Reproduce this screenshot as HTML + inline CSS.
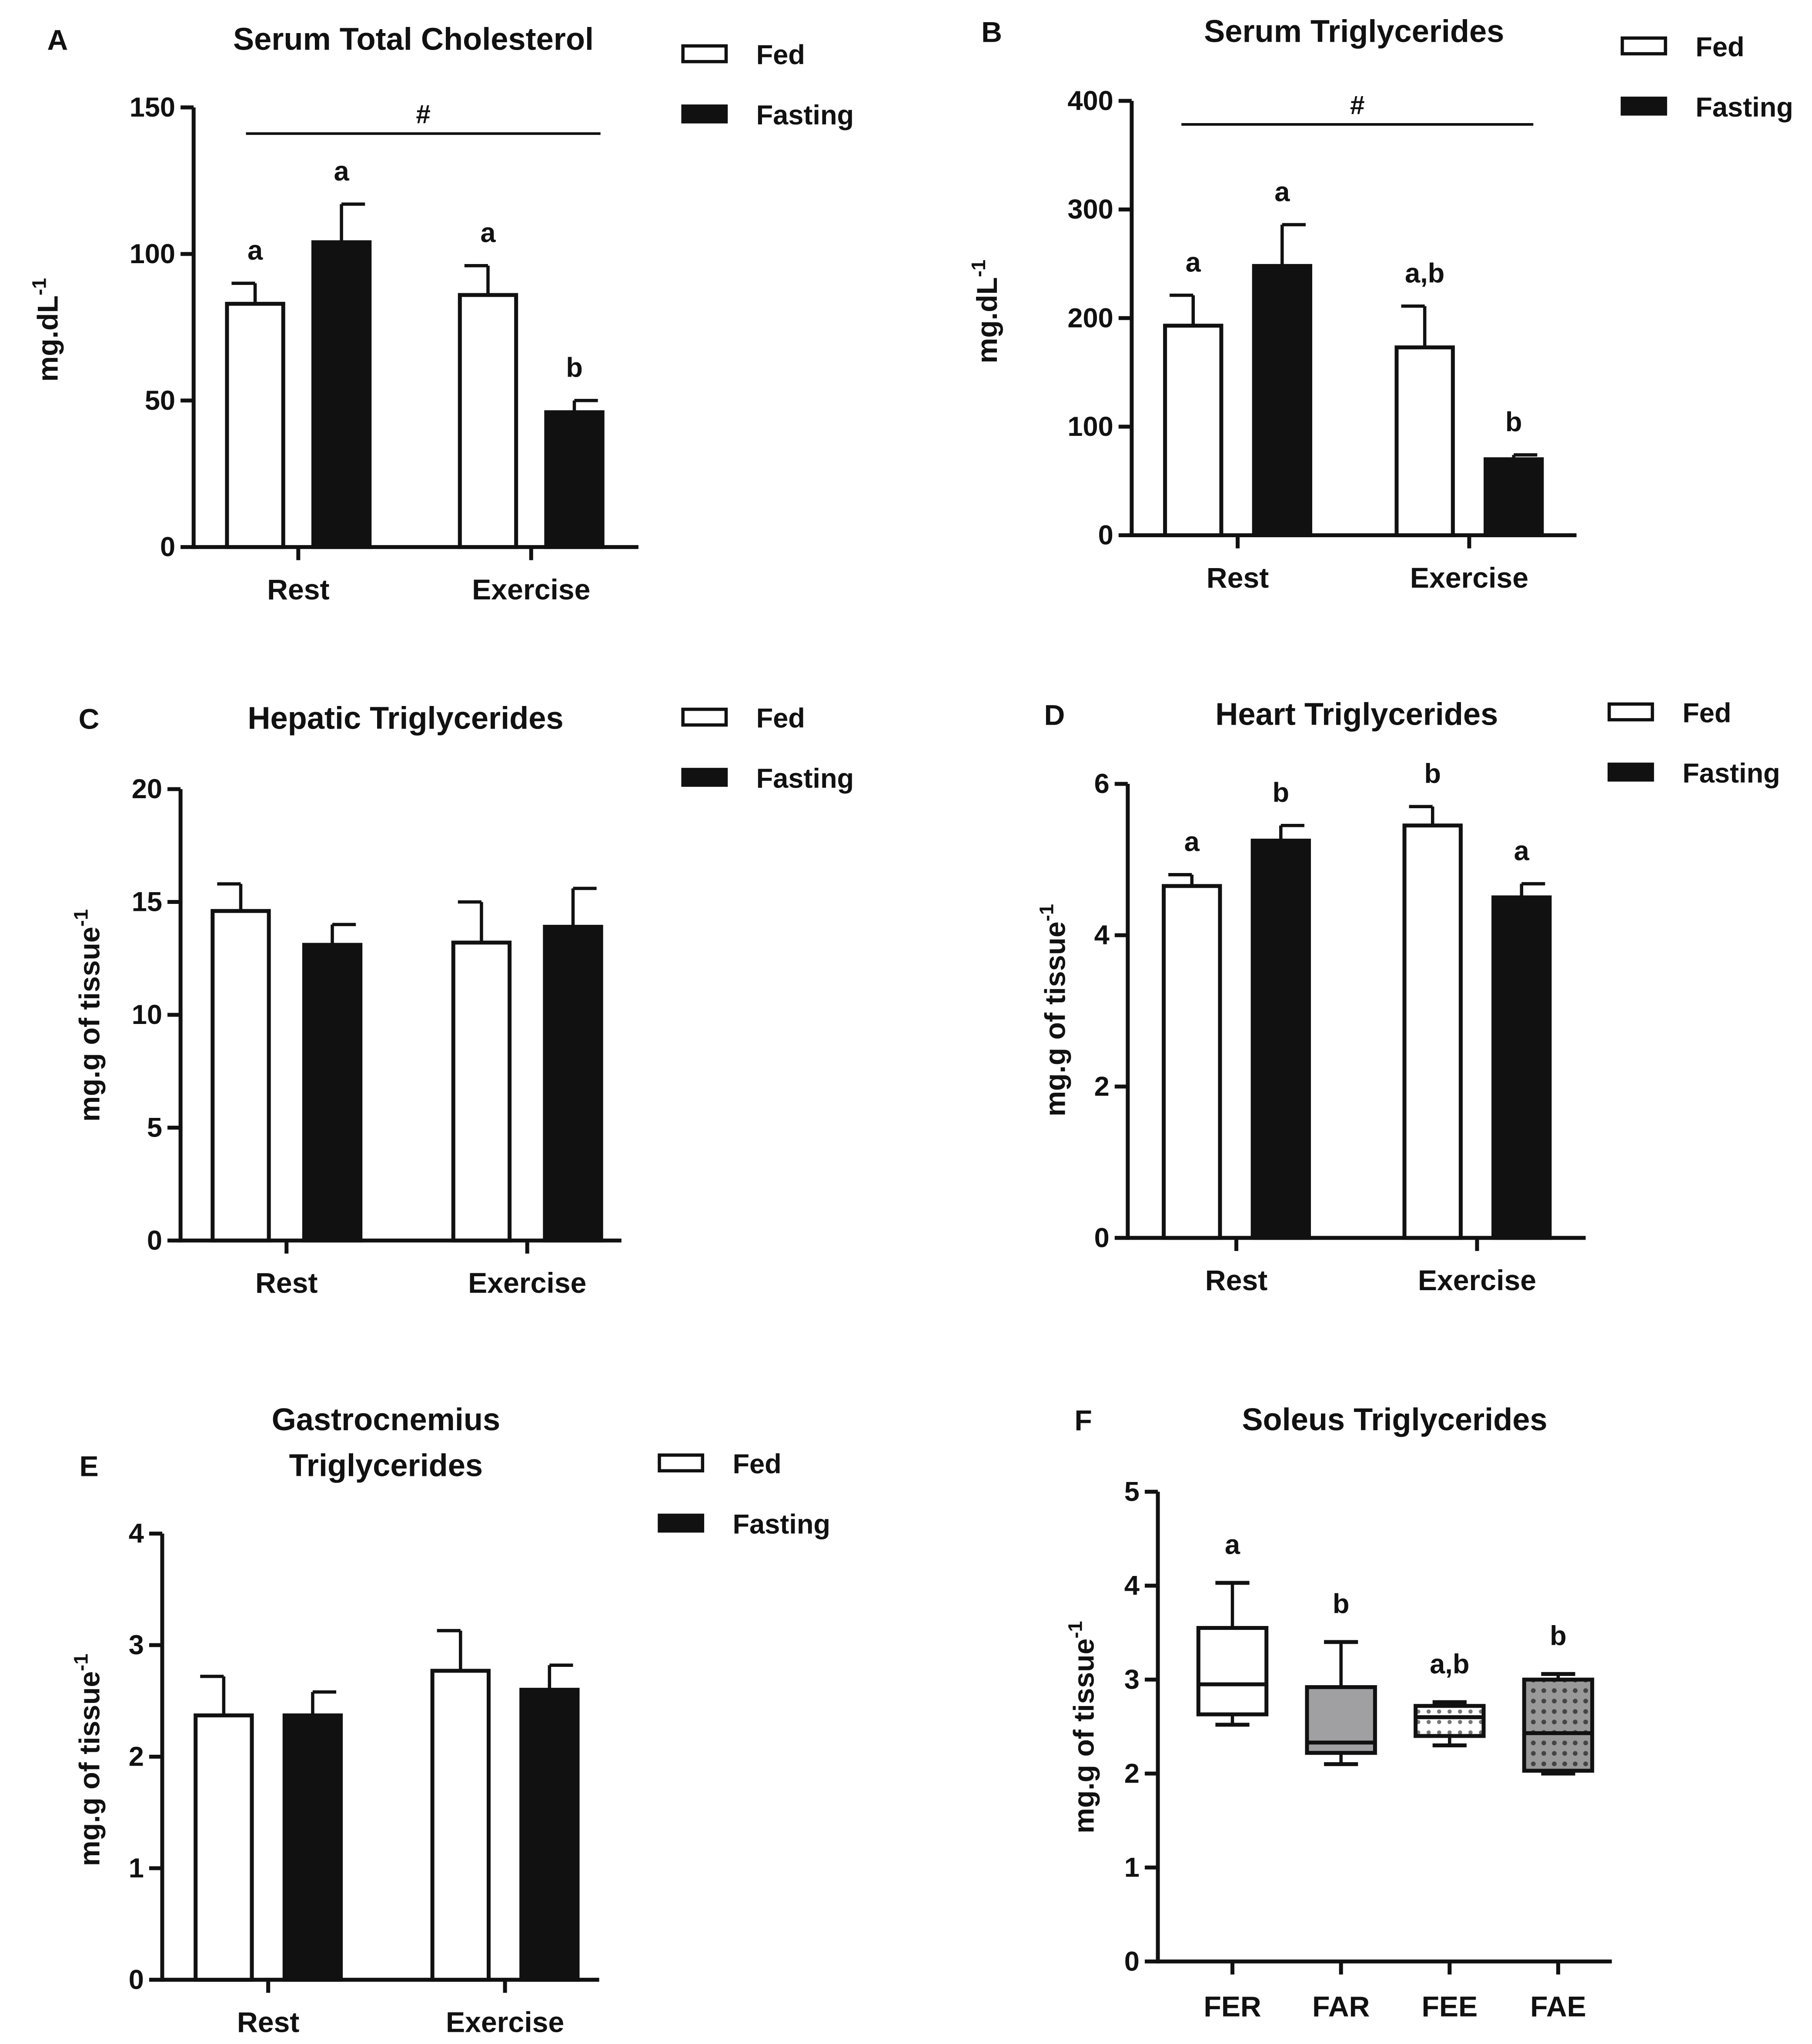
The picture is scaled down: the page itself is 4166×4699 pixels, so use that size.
<!DOCTYPE html>
<html><head><meta charset="utf-8"><style>
html,body{margin:0;padding:0;background:#fff}
svg{display:block}
text{font-family:"Liberation Sans",Arial,sans-serif;font-weight:bold;fill:#111}
</style></head><body>
<svg id="fig" width="4166" height="4699" viewBox="0 0 1385 1562" xmlns="http://www.w3.org/2000/svg">
<defs>
<pattern id="dots1" width="8" height="8" patternUnits="userSpaceOnUse"><rect width="8" height="8" fill="#fff"/><circle cx="4" cy="4" r="1.6" fill="#777"/></pattern>
<pattern id="dots2" width="8" height="8" patternUnits="userSpaceOnUse"><rect width="8" height="8" fill="#999"/><circle cx="4" cy="4" r="1.8" fill="#444"/></pattern>
</defs>
</svg>
<script>
// ---- data ----
const groups = ["Rest","Exercise"];
const aMeans = [83,104,86,46];
const aErr = [90,117,96,50];
const aLetters = ["a","a","a","b"];
const aTicks = [0,50,100,150];
const bMeans = [193,248,173,70];
const bErr = [221,286,211,74];
const bLetters = ["a","a","a,b","b"];
const bTicks = [0,100,200,300,400];
const cMeans = [14.6,13.1,13.2,13.9];
const cErr = [15.8,14.0,15.0,15.6];
const cTicks = [0,5,10,15,20];
const dMeans = [4.65,5.25,5.45,4.5];
const dErr = [4.8,5.45,5.7,4.68];
const dLetters = ["a","b","b","a"];
const dTicks = [0,2,4,6];
const eMeans = [2.37,2.37,2.77,2.6];
const eErr = [2.72,2.58,3.13,2.82];
const eTicks = [0,1,2,3,4];
const fCats = ["FER","FAR","FEE","FAE"];
const fMin = [2.52,2.1,2.3,2.0];
const fQ1 = [2.63,2.22,2.4,2.03];
const fMed = [2.95,2.33,2.6,2.43];
const fQ3 = [3.55,2.92,2.72,3.0];
const fMax = [4.03,3.4,2.76,3.06];
const fLetters = ["a","b","a,b","b"];
const fTicks = [0,1,2,3,4,5];

const svg = document.getElementById('fig');
const NS = "http://www.w3.org/2000/svg";
function el(tag, attrs, parent){const e=document.createElementNS(NS,tag);for(const k in attrs)e.setAttribute(k,attrs[k]);(parent||svg).appendChild(e);return e;}
function txt(x,y,s,size,anchor,parent){const t=el('text',{x:x,y:y,'font-size':size,'text-anchor':anchor||'middle'},parent);t.textContent=s;return t;}

function yAxis(g,ax,y0,y1,max,ticks,title,titleX,titleY,sup){
  const sc=v=>y0-(v/max)*(y0-y1);
  const a=el('g',{},g);
  
  
  el('line',{x1:ax,y1:y0+1.5,x2:ax,y2:sc(max),stroke:'#111','stroke-width':3},a);
  ticks.forEach(t=>{el('line',{x1:ax-10,y1:sc(t),x2:ax,y2:sc(t),stroke:'#111','stroke-width':3},a);
    txt(ax-14,sc(t)+7,String(t),21,'end',a);});
  const tt=el('text',{x:0,y:0,'font-size':22,'text-anchor':'middle',transform:`translate(${titleX},${titleY}) rotate(-90)`},g);
  
  
  tt.textContent=title;
  const sp=el('tspan',{dy:-9,'font-size':15},tt);sp.textContent=sup;
  return sc;
}
function legend(g,x,y){
  [["Fed","#fff"],["Fasting","#111"]].forEach((d,i)=>{
    const le=el('g',{},g);
    
    
    el('rect',{x:x,y:y+i*46-6,width:33,height:12,fill:d[1],stroke:'#111','stroke-width':2.5},le);
    txt(x+56,y+i*46+8,d[0],21,'start',le);
  });
}
function barPanel(o){
  const g=el('g',{});
  
  
  txt(o.lx,o.ly,o.id.toUpperCase(),22,'middle',g);
  o.title.forEach((t,i)=>txt(o.tx,o.ty+i*35,t,24,'middle',g));
  const sc=yAxis(g,o.ax,o.y0,o.y1,o.max,o.ticks,o.ytitle,o.ytx,o.yty,'-1');
  el('line',{x1:o.ax,y1:o.y0,x2:o.xend,y2:o.y0,stroke:'#111','stroke-width':3},g);
  groups.forEach((gname,gi)=>{
    const cx=o.ax+o.gstart+gi*o.gstep;
    el('line',{x1:cx,y1:o.y0,x2:cx,y2:o.y0+10,stroke:'#111','stroke-width':3},g);
    const lab=txt(cx,o.y0+40,gname,22,'middle',g);
    
    
    [0,1].forEach(k=>{
      const i=gi*2+k;
      const mid=cx+(k===0?-o.off:o.off);
      const bx=mid-o.bw/2;
      const top=sc(o.means[i]);
      const eb=el('line',{x1:mid,y1:sc(o.err[i]),x2:mid,y2:top,stroke:'#111','stroke-width':2.5},g);
      
      
      const cap=el('line',{x1:mid-(k===0?18:0),y1:sc(o.err[i]),x2:mid+(k===0?0:18),y2:sc(o.err[i]),stroke:'#111','stroke-width':2.5},g);
      
      
      const r=el('rect',{x:bx,y:top,width:o.bw,height:o.y0-top,fill:k?'#111':'#fff',stroke:'#111','stroke-width':3},g);
      
      
      if(o.letters){const lt=txt(mid,sc(o.err[i])-18,o.letters[i],21,'middle',g);
        
        }
    });
  });
  if(o.sig){el('line',{x1:o.sig[0],y1:o.sig[2],x2:o.sig[1],y2:o.sig[2],stroke:'#111','stroke-width':2},g);
    txt((o.sig[0]+o.sig[1])/2,o.sig[2]-8,'#',20,'middle',g);}
  legend(g,o.legx,o.legy);
}
barPanel({id:'a',lx:44,ly:38,title:['Serum Total Cholesterol'],tx:316,ty:38,ax:148,y0:418,y1:82,max:150,ticks:aTicks,
  ytitle:'mg.dL',ytx:44,yty:252,xend:488,gstart:80,gstep:178,means:aMeans,err:aErr,letters:aLetters,bw:43,off:33,sig:[188,459,102],legx:522,legy:41});
barPanel({id:'b',lx:758,ly:32,title:['Serum Triglycerides'],tx:1035,ty:32,ax:865,y0:409,y1:77,max:400,ticks:bTicks,
  ytitle:'mg.dL',ytx:762,yty:238,xend:1205,gstart:81,gstep:177,means:bMeans,err:bErr,letters:bLetters,bw:43,off:34,sig:[903,1172,95],legx:1240,legy:35});
barPanel({id:'c',lx:68,ly:557,title:['Hepatic Triglycerides'],tx:310,ty:557,ax:138,y0:948,y1:603,max:20,ticks:cTicks,
  ytitle:'mg.g of tissue',ytx:76,yty:776,xend:475,gstart:81,gstep:184,means:cMeans,err:cErr,letters:null,bw:43,off:35,legx:522,legy:548});
barPanel({id:'d',lx:806,ly:554,title:['Heart Triglycerides'],tx:1037,ty:554,ax:862,y0:946,y1:599,max:6,ticks:dTicks,
  ytitle:'mg.g of tissue',ytx:814,yty:772,xend:1212,gstart:83,gstep:184,means:dMeans,err:dErr,letters:dLetters,bw:43,off:34,legx:1230,legy:544});
barPanel({id:'e',lx:68,ly:1128,title:['Gastrocnemius','Triglycerides'],tx:295,ty:1093,ax:124,y0:1513,y1:1172,max:4,ticks:eTicks,
  ytitle:'mg.g of tissue',ytx:76,yty:1345,xend:458,gstart:81,gstep:181,means:eMeans,err:eErr,letters:null,bw:43,off:34,legx:504,legy:1118});

// Panel F box plot
(function(){
  const g=el('g',{});
  
  
  txt(828,1093,'F',22,'middle',g);
  txt(1066,1093,'Soleus Triglycerides',24,'middle',g);
  const ax=885,y0=1499,y1=1140;
  const sc=yAxis(g,ax,y0,y1,5,fTicks,'mg.g of tissue',836,1320,'-1');
  el('line',{x1:ax,y1:y0,x2:1232,y2:y0,stroke:'#111','stroke-width':3},g);
  const fills=['#fff','#a0a0a2','url(#dots1)','url(#dots2)'];
  const bw=52;
  fCats.forEach((c,i)=>{
    const cx=942+i*83;
    el('line',{x1:cx,y1:y0,x2:cx,y2:y0+10,stroke:'#111','stroke-width':3},g);
    const lab=txt(cx,y0+42,c,22,'middle',g);
    
    
    const bg=el('g',{},g);
    
    
    el('line',{x1:cx,y1:sc(fMax[i]),x2:cx,y2:sc(fMin[i]),stroke:'#111','stroke-width':2.5},bg);
    el('line',{x1:cx-13,y1:sc(fMax[i]),x2:cx+13,y2:sc(fMax[i]),stroke:'#111','stroke-width':3},bg);
    el('line',{x1:cx-13,y1:sc(fMin[i]),x2:cx+13,y2:sc(fMin[i]),stroke:'#111','stroke-width':3},bg);
    el('rect',{x:cx-bw/2,y:sc(fQ3[i]),width:bw,height:sc(fQ1[i])-sc(fQ3[i]),fill:fills[i],stroke:'#111','stroke-width':3},bg);
    el('line',{x1:cx-bw/2,y1:sc(fMed[i]),x2:cx+bw/2,y2:sc(fMed[i]),stroke:'#111','stroke-width':3},bg);
    const lt=txt(cx,sc(fMax[i])-22,fLetters[i],21,'middle',g);
    
    
  });
})();
</script>
</body></html>
